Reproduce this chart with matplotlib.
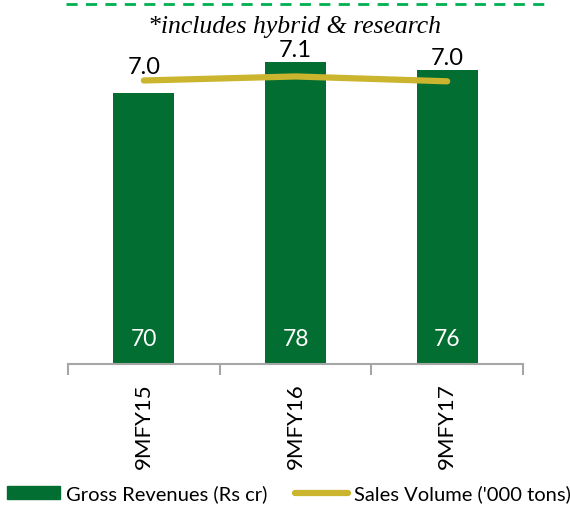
import matplotlib
matplotlib.use("Agg")
import matplotlib.pyplot as plt
from matplotlib.patches import Patch
from matplotlib.lines import Line2D

categories = ["9MFY15", "9MFY16", "9MFY17"]
revenues = [70, 78, 76]
volumes = [7.0, 7.1, 6.98]
rev_labels = ["70", "78", "76"]
vol_labels = ["7.0", "7.1", "7.0"]
note = "*includes hybrid & research"

bar_color = "#036E31"
line_color = "#CBB52E"
axis_color = "#A6A6A6"
font = ["Lato", "DejaVu Sans"]

fig = plt.figure(figsize=(5.70, 5.05), dpi=100)
ax = fig.add_axes([68/570, 141/505, 455/570, 324/505])
ax2 = ax.twinx()

x = list(range(len(categories)))
ax.bar(x, revenues, width=0.4, color=bar_color, zorder=2)
ax2.plot(x, volumes, color=line_color, lw=4.5, solid_capstyle="round", zorder=3)

ax.set_xlim(-0.5, len(categories) - 0.5)
ax.set_ylim(0, 83.7)
ax2.set_ylim(0, 8.0)

for a in (ax, ax2):
    for s in ("top", "right", "left"):
        a.spines[s].set_visible(False)
    a.set_yticks([])
ax2.spines["bottom"].set_visible(False)
ax.spines["bottom"].set_color(axis_color)
ax.spines["bottom"].set_linewidth(1.5)
ax.set_xticks([i - 0.5 for i in range(len(categories) + 1)])
ax.set_xticklabels([])
ax.tick_params(axis="x", length=8, width=1.5, color=axis_color, direction="out")
ax.set_xticks(x, minor=True)
ax.set_xticklabels(categories, minor=True, rotation=90, fontsize=16, family=font)
ax.tick_params(axis="x", which="minor", length=0, pad=14)

for i, t in enumerate(rev_labels):
    ax.annotate(t, xy=(i, 0), xytext=(0, 18), textcoords="offset points",
                ha="center", va="center", color="white", fontsize=16.5, family=font)

fig.canvas.draw()
for i, t in enumerate(vol_labels):
    yb = ax.transData.transform((i, revenues[i]))[1]
    yl = ax2.transData.transform((i, volumes[i]))[1] + 1
    top = max(yb, yl)
    xd = ax.transData.transform((i, 0))[0]
    fig.text(xd / fig.bbox.width, (top + 5) / fig.bbox.height, t,
             ha="center", va="baseline", fontsize=17, family=font, color="black")

fig.text(294/570, 1 - 27/505, note, ha="center", va="center", fontsize=18.5,
         style="italic", family=["Liberation Serif", "DejaVu Serif"])
fig.add_artist(Line2D([66/570, 544/570], [1 - 4/505, 1 - 4/505], color="#00B050",
                      lw=2, ls=(0, (4, 3)), transform=fig.transFigure))

handles = [Patch(color=bar_color), Line2D([0], [0], color=line_color, lw=4.5, solid_capstyle="round")]
fig.legend(handles, ["Gross Revenues (Rs cr)", "Sales Volume ('000 tons)"], loc="center",
           bbox_to_anchor=(289/570, 1 - 494/505), ncol=2, frameon=False,
           prop={"family": font, "size": 14.5}, handlelength=2.6, handleheight=0.6,
           handletextpad=0.3, columnspacing=1.4, borderpad=0)

fig.savefig("out.png", dpi=100)
